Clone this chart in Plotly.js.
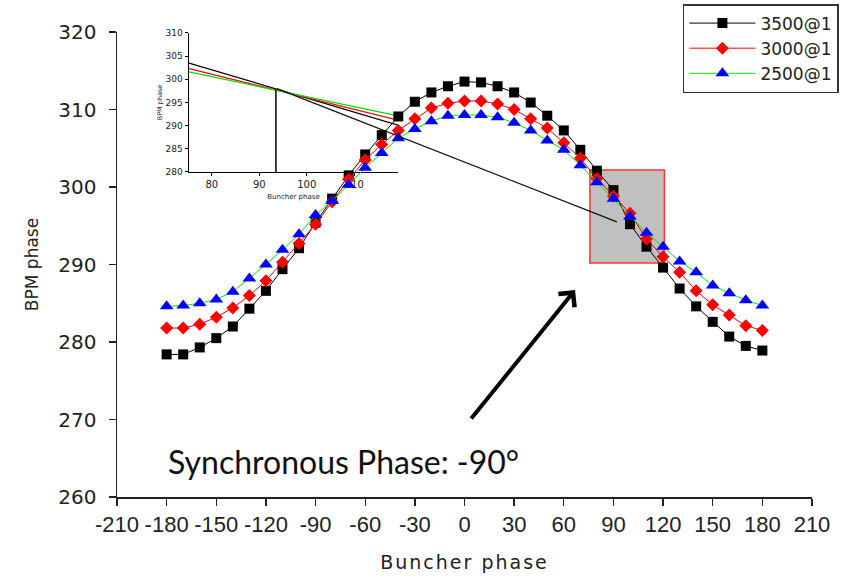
<!DOCTYPE html>
<html>
<head>
<meta charset="utf-8">
<script src="https://cdn.plot.ly/plotly-3.0.1.min.js"></script>
<style>
html,body{margin:0;padding:0;background:#fff;}
.x2title{letter-spacing:2px;}
</style>
</head>
<body>
<div id="chart" style="width:859px;height:576px;"></div>
<script>
// ---- main chart data ----
const buncherPhase = [-180,-170,-160,-150,-140,-130,-120,-110,-100,-90,-80,-70,-60,-50,-40,-30,-20,-10,0,10,20,30,40,50,60,70,80,90,100,110,120,130,140,150,160,170,180];
const bpm3500 = [278.4,278.4,279.3,280.5,282.0,284.3,286.6,289.4,292.1,295.4,298.5,301.5,304.2,306.7,309.1,311.0,312.2,313.0,313.6,313.5,313.0,312.2,310.9,309.2,307.3,304.8,302.1,299.6,295.2,292.3,289.6,286.9,284.6,282.6,280.7,279.5,278.9];
const bpm3000 = [281.8,281.8,282.3,283.2,284.4,286.0,287.9,290.3,292.7,295.2,298.1,301.0,303.5,305.5,307.3,308.8,310.2,310.8,311.1,311.1,310.7,310.0,308.8,307.6,305.7,303.7,301.1,298.8,296.6,293.3,291.0,289.0,286.6,284.8,283.5,282.1,281.5];
const bpm2500 = [284.6,284.7,285.0,285.5,286.5,288.2,290.0,291.9,293.9,296.4,298.2,300.3,302.5,304.4,306.3,307.5,308.5,309.2,309.3,309.3,309.0,308.3,307.3,306.0,304.8,302.8,300.6,298.5,296.2,294.1,292.3,290.4,289.0,287.3,286.3,285.4,284.7];
const seriesNames = ['3500@1','3000@1','2500@1'];

// ---- tick labels ----
const xTickVals = [-210,-180,-150,-120,-90,-60,-30,0,30,60,90,120,150,180,210];
const xTickText = ['-210','-180','-150','-120','-90','-60','-30','0','30','60','90','120','150','180','210'];
const yTickVals = [260,270,280,290,300,310,320];
const insetXTicks = [80,90,100,110];
const insetYTicks = [280,285,290,295,300,305,310];

// ---- inset data (zoom around synchronous phase) ----
const insetX = [75.2, 119.2];
const insetBlack = [303.5, 290.1];
const insetRed = [302.3, 291.2];
const insetGreen = [301.6, 292.1];
const insetCrossX = [93.5, 93.5];
const insetCrossY = [280, 297.8];

// ---- annotation geometry (main-axis units) ----
const zoomBoxX = [75.8, 120.8];
const zoomBoxY = [290.2, 302.2];
const pointerX = [-113.3, 92.1];
const pointerY = [312.7, 295.5];
const arrowHead = [66.8, 286.7];

const mainX = [-210, 210];
const mainY = [260, 320];

const traces = [
  {x: insetX, y: insetBlack, xaxis:'x', yaxis:'y', mode:'lines', line:{color:'#000', width:1.2}, showlegend:false, hoverinfo:'skip'},
  {x: insetX, y: insetRed, xaxis:'x', yaxis:'y', mode:'lines', line:{color:'#ff0000', width:1.2}, showlegend:false, hoverinfo:'skip'},
  {x: insetX, y: insetGreen, xaxis:'x', yaxis:'y', mode:'lines', line:{color:'#00dd00', width:1.2}, showlegend:false, hoverinfo:'skip'},
  {x: insetCrossX, y: insetCrossY, xaxis:'x', yaxis:'y', mode:'lines', line:{color:'#000', width:1.5}, showlegend:false, hoverinfo:'skip'},
  {x: buncherPhase, y: bpm3500, xaxis:'x2', yaxis:'y2', name: seriesNames[0], mode:'lines+markers',
   line:{color:'#000', width:1}, marker:{symbol:'square', size:10, color:'#000'}},
  {x: buncherPhase, y: bpm3000, xaxis:'x2', yaxis:'y2', name: seriesNames[1], mode:'lines+markers',
   line:{color:'#ff0000', width:1}, marker:{symbol:'diamond', size:10, color:'#ff0000'}},
  {x: buncherPhase, y: bpm2500, xaxis:'x2', yaxis:'y2', name: seriesNames[2], mode:'lines+markers',
   line:{color:'#00ee00', width:1}, marker:{symbol:'triangle-up', size:12, color:'#0000ff'}}
];

const baseFamily = 'DejaVu Sans, Arial, sans-serif';

const layout = {
  width: 859, height: 576,
  margin: {l:117, r:47, t:32, b:79, autoexpand:false},
  paper_bgcolor: '#fff', plot_bgcolor: 'rgba(0,0,0,0)',
  font: {family: baseFamily, color:'#222'},
  showlegend: true,
  legend: {xref:'container', yref:'container', x:0.795, y:0.993, xanchor:'left', yanchor:'top',
           bgcolor:'#fff', bordercolor:'#333', borderwidth:1.5,
           itemwidth:66, font:{family: baseFamily, size:17, color:'#222'}, tracegroupgap:0},
  xaxis: {domain:[0.1036, 0.4043], anchor:'y', range:[insetX[0], insetX[1]], tickmode:'array', tickvals:insetXTicks,
          showline:true, linecolor:'#000', linewidth:1.5, ticks:'outside', ticklen:3, tickcolor:'#000',
          showgrid:false, zeroline:false, tickfont:{size:10, color:'#222'},
          title:{text:'Buncher phase', font:{size:7, color:'#222'}, standoff:4}},
  yaxis: {domain:[0.699, 0.998], anchor:'x', range:[280, 310], tickmode:'array', tickvals:insetYTicks,
          showline:true, linecolor:'#000', linewidth:1.5, ticks:'outside', ticklen:3, tickcolor:'#000',
          showgrid:false, zeroline:false, tickfont:{size:9, color:'#222'},
          title:{text:'BPM phase', font:{size:6.5, color:'#222'}, standoff:2}},
  xaxis2: {domain:[0,1], anchor:'y2', range:mainX, tickmode:'array', tickvals:xTickVals, ticktext:xTickText, tickangle:0,
           showline:true, linecolor:'#222', linewidth:1.5, ticks:'outside', ticklen:7, tickcolor:'#222', tickwidth:1.3,
           showgrid:false, zeroline:false, tickfont:{family:'Liberation Sans, Arial, sans-serif', size:22, color:'#222'},
           title:{text:'Buncher phase', font:{family: baseFamily, size:19, color:'#222'}, standoff:20}},
  yaxis2: {domain:[0,1], anchor:'x2', range:mainY, tickmode:'array', tickvals:yTickVals,
           showline:true, linecolor:'#222', linewidth:1.5, ticks:'outside', ticklen:7, tickcolor:'#222', tickwidth:1.3,
           ticklabelstandoff:8,
           showgrid:false, zeroline:false, tickfont:{family: baseFamily, size:20, color:'#222'},
           title:{text:'BPM phase', font:{family: baseFamily, size:17, color:'#222'}, standoff:15}},
  shapes: [
    {type:'rect', xref:'x2', yref:'y2', x0:zoomBoxX[0], x1:zoomBoxX[1], y0:zoomBoxY[0], y1:zoomBoxY[1],
     fillcolor:'#c0c0c0', line:{color:'#ff3030', width:1.5}, layer:'below'},
    {type:'line', xref:'x2', yref:'y2', x0:pointerX[0], x1:pointerX[1], y0:pointerY[0], y1:pointerY[1],
     line:{color:'#111', width:1.2}, layer:'above'}
  ],
  annotations: [
    {xref:'x2', yref:'y2', x:arrowHead[0], y:arrowHead[1], ax:-105, ay:130, text:'', showarrow:true,
     arrowhead:4, arrowsize:1, arrowwidth:4, arrowcolor:'#000'},
    {xref:'paper', yref:'paper', x:0.3266, y:0.0753, xanchor:'center', yanchor:'middle', showarrow:false,
     text:'Synchronous Phase: -90°', font:{family:'Lato, Open Sans, sans-serif', size:32, color:'#111'}}
  ]
};

Plotly.newPlot('chart', traces, layout, {displayModeBar:false, staticPlot:true});
</script>
</body>
</html>
